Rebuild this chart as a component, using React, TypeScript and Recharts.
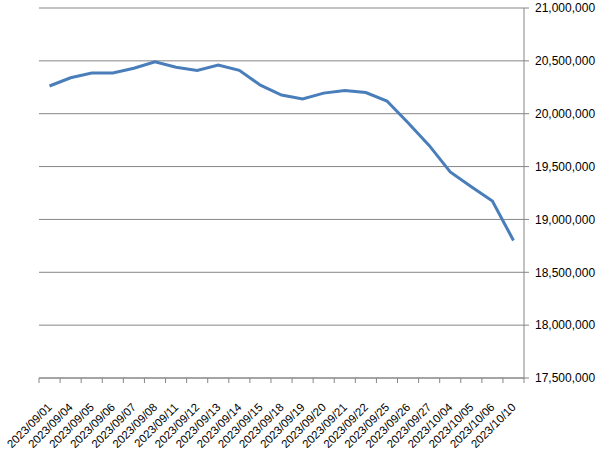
import { LineChart, Line, XAxis, YAxis, CartesianGrid } from 'recharts'

const dates = [
  '2023/09/01', '2023/09/04', '2023/09/05', '2023/09/06', '2023/09/07', '2023/09/08',
  '2023/09/11', '2023/09/12', '2023/09/13', '2023/09/14', '2023/09/15', '2023/09/18',
  '2023/09/19', '2023/09/20', '2023/09/21', '2023/09/22', '2023/09/25', '2023/09/26',
  '2023/09/27', '2023/10/04', '2023/10/05', '2023/10/06', '2023/10/10',
]

const values = [
  20262000, 20340000, 20385000, 20385000, 20430000, 20490000,
  20440000, 20410000, 20460000, 20410000, 20270000, 20177000,
  20140000, 20195000, 20220000, 20200000, 20120000, 19915000,
  19700000, 19450000, 19310000, 19175000, 18800000,
]

const yTicks = [17500000, 18000000, 18500000, 19000000, 19500000, 20000000, 20500000, 21000000]

const data = dates.map((date, i) => ({ date, value: values[i] }))

const FONT = 'Liberation Sans, Arial, sans-serif'
const GRID = '#868686'
const HALF_BAND = 484 / dates.length / 2

function formatNum(v: number) {
  return v.toLocaleString('en-US')
}

const DateTick = (props: any) => {
  const { x, y, payload, index } = props
  const tx = x + 3
  const ty = y + 22
  return (
    <g>
      <line x1={x - HALF_BAND} y1={y - 8} x2={x - HALF_BAND} y2={y - 3} stroke={GRID} />
      {index === dates.length - 1 && (
        <line x1={x + HALF_BAND} y1={y - 8} x2={x + HALF_BAND} y2={y - 3} stroke={GRID} />
      )}
      <text
        x={tx}
        y={ty}
        textAnchor="end"
        fontSize={11.5}
        fontFamily={FONT}
        fill="#000"
        transform={`rotate(-45, ${tx}, ${ty})`}
      >
        {payload.value}
      </text>
    </g>
  )
}

export default function App() {
  return (
    <div style={{ position: 'absolute', left: 0, top: 0, width: 608, height: 452, background: '#fff' }}>
      <LineChart width={608} height={452} data={data} margin={{ top: 8, right: 0, left: 39, bottom: 0 }}>
        <CartesianGrid vertical={false} stroke={GRID} strokeWidth={1} />
        <XAxis
          dataKey="date"
          interval={0}
          height={74}
          padding={{ left: HALF_BAND, right: HALF_BAND }}
          stroke={GRID}
          tickLine={false}
          tick={<DateTick />}
        />
        <YAxis
          orientation="right"
          width={84}
          domain={[17500000, 21000000]}
          ticks={yTicks}
          stroke={GRID}
          tickSize={5}
          tickMargin={6}
          tickFormatter={formatNum}
          tick={{ fontSize: 12, fontFamily: FONT, fill: '#000' }}
          textAnchor="start"
        />
        <Line
          type="linear"
          dataKey="value"
          stroke="#4A7EBB"
          strokeWidth={3}
          dot={false}
          isAnimationActive={false}
        />
      </LineChart>
    </div>
  )
}
